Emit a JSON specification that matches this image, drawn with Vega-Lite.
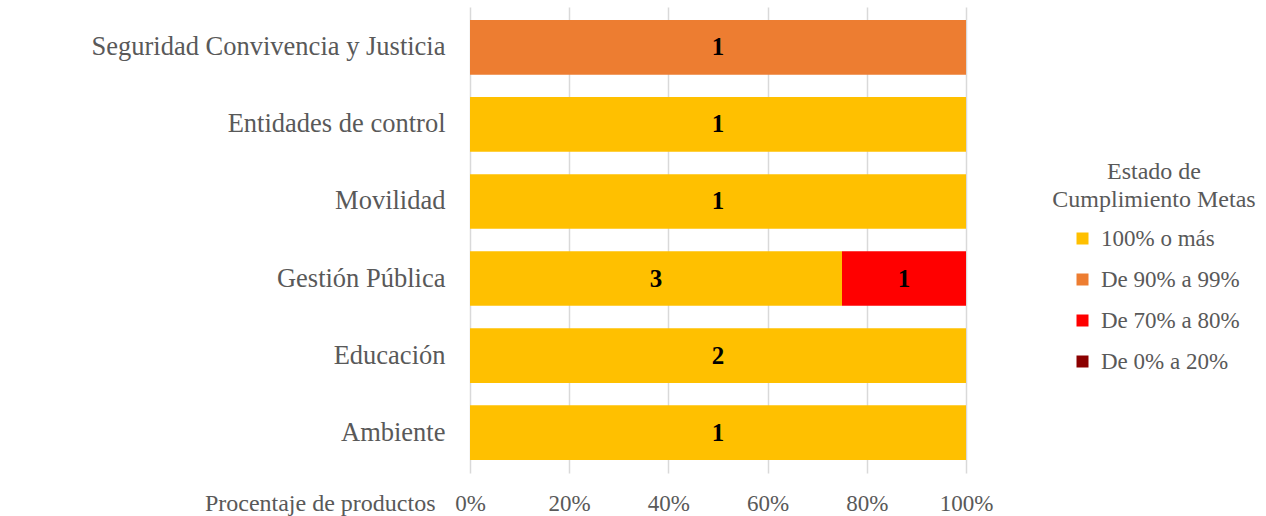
{
  "$schema": "https://vega.github.io/schema/vega-lite/v6.json",
  "width": 496,
  "height": 466,
  "autosize": "none",
  "padding": {"left": 470, "top": 7, "right": 300, "bottom": 43},
  "background": "white",
  "config": {
    "view": {"stroke": null},
    "font": "Liberation Serif"
  },
  "data": {
    "values": [
      {"sector": "Seguridad Convivencia y Justicia", "estado": "De 90% a 99%", "n": 1},
      {"sector": "Entidades de control", "estado": "100% o más", "n": 1},
      {"sector": "Movilidad", "estado": "100% o más", "n": 1},
      {"sector": "Gestión Pública", "estado": "100% o más", "n": 3},
      {"sector": "Gestión Pública", "estado": "De 70% a 80%", "n": 1},
      {"sector": "Educación", "estado": "100% o más", "n": 2},
      {"sector": "Ambiente", "estado": "100% o más", "n": 1}
    ]
  },
  "transform": [
    {
      "stack": "n",
      "groupby": ["sector"],
      "sort": [{"field": "estado", "order": "ascending"}],
      "offset": "normalize",
      "as": ["x0", "x1"]
    },
    {"calculate": "(datum.x0 + datum.x1) / 2", "as": "xm"}
  ],
  "encoding": {
    "y": {
      "field": "sector",
      "type": "nominal",
      "sort": [
        "Seguridad Convivencia y Justicia",
        "Entidades de control",
        "Movilidad",
        "Gestión Pública",
        "Educación",
        "Ambiente"
      ],
      "scale": {"paddingInner": 0.29, "paddingOuter": 0.17},
      "axis": {
        "title": null,
        "ticks": false,
        "domain": false,
        "grid": false,
        "labelFontSize": 26.5,
        "labelColor": "#595959",
        "labelPadding": 25,
        "labelLimit": 600
      }
    }
  },
  "layer": [
    {
      "mark": {"type": "bar"},
      "encoding": {
        "x": {
          "field": "x0",
          "type": "quantitative",
          "scale": {"domain": [0, 1], "nice": false},
          "axis": {
            "values": [0, 0.2, 0.4, 0.6, 0.8, 1],
            "format": ".0%",
            "ticks": false,
            "domain": false,
            "grid": true,
            "gridColor": "#D9D9D9",
            "gridWidth": 1.5,
            "labelFlush": false,
            "labelFontSize": 23,
            "labelColor": "#595959",
            "labelPadding": 37,
            "labelBaseline": "alphabetic",
            "title": "Procentaje de productos",
            "titleFontSize": 24,
            "titleFontWeight": "normal",
            "titleColor": "#595959",
            "titleAlign": "right",
            "titleBaseline": "alphabetic",
            "titleX": -35,
            "titleY": 37
          }
        },
        "x2": {"field": "x1"},
        "color": {
          "field": "estado",
          "type": "nominal",
          "scale": {
            "domain": ["100% o más", "De 90% a 99%", "De 70% a 80%", "De 0% a 20%"],
            "range": ["#FFC000", "#ED7D31", "#FF0000", "#8B0000"]
          },
          "legend": {
            "orient": "none",
            "legendX": 582,
            "legendY": 153,
            "title": ["Estado de", "Cumplimiento Metas"],
            "titleLimit": 400,
            "titleFontSize": 24,
            "titleFontWeight": "normal",
            "titleColor": "#595959",
            "titleAnchor": "middle",
            "titleAlign": "center",
            "titleLineHeight": 28,
            "titlePadding": 15,
            "labelFontSize": 23,
            "labelColor": "#595959",
            "labelOffset": 7,
            "labelLimit": 400,
            "symbolType": "square",
            "symbolSize": 144,
            "symbolStrokeWidth": 0,
            "symbolOpacity": 1,
            "symbolOffset": 2,
            "rowPadding": 17
          }
        }
      }
    },
    {
      "mark": {"type": "text", "fontWeight": "bold", "fontSize": 25, "color": "black"},
      "encoding": {
        "x": {"field": "xm", "type": "quantitative"},
        "text": {"field": "n", "type": "quantitative"}
      }
    }
  ]
}
